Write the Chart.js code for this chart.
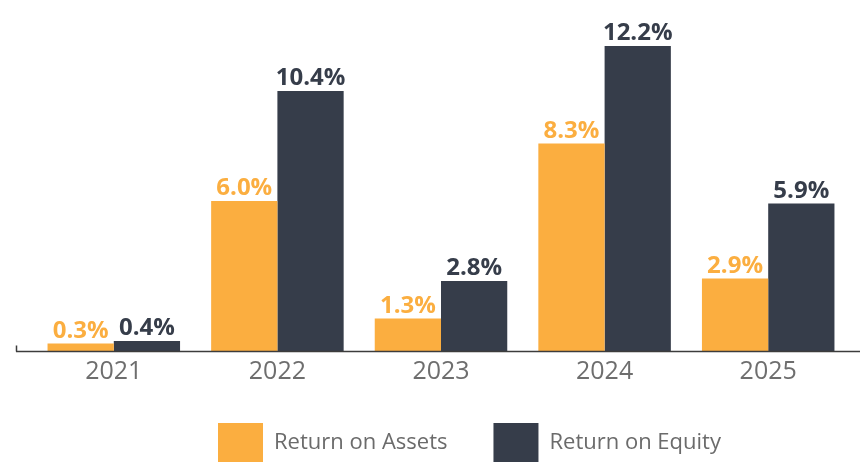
<html><head>
<script src="https://cdn.jsdelivr.net/npm/chart.js"></script>
<title>Return on Assets and Equity</title>
<style>
html, body { margin: 0; padding: 0; background: #fff; overflow: hidden; }
#chart { display: block; }
</style>
</head>
<body>
<canvas id="chart" width="860" height="489"></canvas>
<script>
const years = ['2021', '2022', '2023', '2024', '2025'];
const returnOnAssets = [0.3, 6.0, 1.3, 8.3, 2.9];
const returnOnEquity = [0.4, 10.4, 2.8, 12.2, 5.9];

const orange = '#FBAE40';
const slate = '#363D4A';

// percent labels above each bar, same colour as the bar
const barLabels = {
  id: 'barLabels',
  afterDatasetsDraw(chart) {
    const ctx = chart.ctx;
    ctx.save();
    ctx.font = '700 24px "Open Sans"';
    ctx.textAlign = 'center';
    ctx.textBaseline = 'alphabetic';
    chart.data.datasets.forEach((ds, i) => {
      ctx.fillStyle = ds.backgroundColor;
      chart.getDatasetMeta(i).data.forEach((bar, j) => {
        ctx.fillText(ds.data[j].toFixed(1) + '%', bar.x, bar.y - 6);
      });
    });
    ctx.restore();
  }
};

// baseline running across the whole width, with a small tick on the left
const baseline = {
  id: 'baseline',
  afterDatasetsDraw(chart) {
    const ctx = chart.ctx;
    const y = chart.chartArea.bottom + 0.5;
    ctx.save();
    ctx.strokeStyle = '#3c3c3c';
    ctx.lineWidth = 1.5;
    ctx.beginPath();
    ctx.moveTo(16, y);
    ctx.lineTo(860, y);
    ctx.moveTo(16.5, y);
    ctx.lineTo(16.5, y - 6);
    ctx.stroke();
    ctx.restore();
  }
};

// place the legend where the reference has it
const legendShift = {
  id: 'legendShift',
  afterLayout(chart) {
    const lg = chart.legend;
    const pad = lg.options.labels.padding;
    lg.left = 218 - pad;
    lg.right = 860;
    lg.top = 423 - pad;
    lg.bottom = lg.top + lg.height;
  }
};

new Chart(document.getElementById('chart'), {
  type: 'bar',
  data: {
    labels: years,
    datasets: [{
      label: 'Return on Assets',
      data: returnOnAssets,
      backgroundColor: orange
    }, {
      label: 'Return on Equity',
      data: returnOnEquity,
      backgroundColor: slate
    }]
  },
  options: {
    responsive: false,
    animation: false,
    devicePixelRatio: 1,
    categoryPercentage: 0.81,
    barPercentage: 1,
    layout: { padding: { left: 32, right: 10, top: 0, bottom: 0 } },
    plugins: {
      tooltip: { enabled: false },
      legend: {
        position: 'bottom',
        align: 'start',
        labels: {
          boxWidth: 45,
          boxHeight: 40,
          padding: 46,
          color: '#6b6b6b',
          font: { family: '"Open Sans"', size: 22 }
        }
      }
    },
    scales: {
      x: {
        grid: { display: false, drawTicks: false },
        border: { display: false },
        ticks: {
          color: '#6e6e6e',
          padding: 6,
          font: { family: '"Open Sans"', size: 25 }
        }
      },
      y: {
        display: false,
        min: 0,
        max: 14.04
      }
    }
  },
  plugins: [barLabels, baseline, legendShift]
});
</script>
</body></html>
